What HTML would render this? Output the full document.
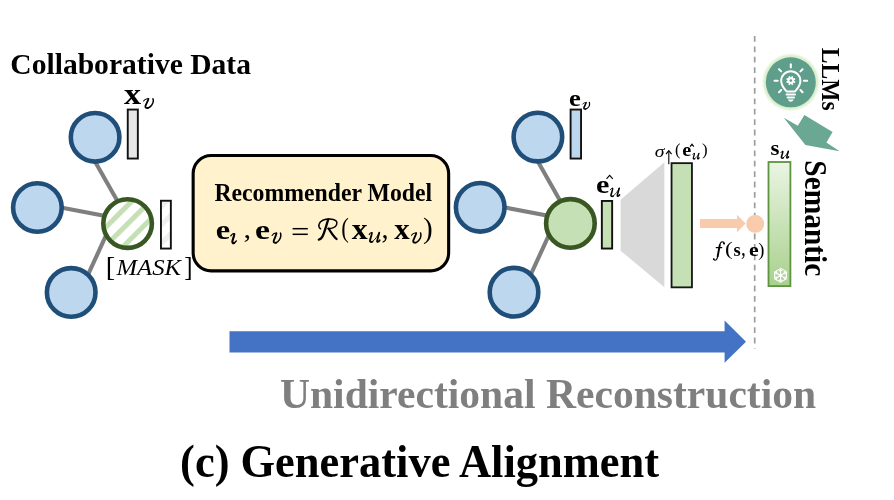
<!DOCTYPE html>
<html><head><meta charset="utf-8">
<style>
html,body{margin:0;padding:0;background:#fff;width:894px;height:500px;overflow:hidden}
svg{display:block;will-change:transform}
text{font-family:"Liberation Serif",serif}
.b{font-weight:bold}
.i{font-style:italic}
</style></head><body>
<svg width="894" height="500" viewBox="0 0 894 500">
<defs>
<pattern id="gs" width="13" height="13" patternUnits="userSpaceOnUse" patternTransform="rotate(45) translate(-1.05,0)">
<rect x="0" y="0" width="5.1" height="13" fill="#c5e0b4"/>
</pattern>
<pattern id="ws" width="13" height="13" patternUnits="userSpaceOnUse" patternTransform="rotate(45) translate(-2.45,0)">
<rect x="0" y="0" width="5.1" height="13" fill="#efefef"/>
</pattern>
<linearGradient id="sg" x1="0" y1="0" x2="0" y2="1">
<stop offset="0" stop-color="#eaf5e3"/>
<stop offset="1" stop-color="#a8d08d"/>
</linearGradient>
<radialGradient id="glow" cx="0.5" cy="0.5" r="0.5">
<stop offset="0.84" stop-color="#d3ebc2"/>
<stop offset="0.91" stop-color="#dcefcf" stop-opacity="0.85"/>
<stop offset="1" stop-color="#e8f5df" stop-opacity="0"/>
</radialGradient>
</defs>

<text class="b" font-size="29.06" transform="translate(10.32,73.70) scale(1.0179,1)">Collaborative Data</text>
<g id="gl">
<g stroke="#7f7f7f" stroke-width="4.1">
<line x1="81.2" y1="137.3" x2="130.2" y2="223.6"/>
<line x1="37.3" y1="202.9" x2="127.7" y2="220.3"/>
<line x1="111.4" y1="223.7" x2="79.9" y2="292.4"/>
</g>
<g fill="#bdd7ee" stroke="#1f4e79" stroke-width="4.6">
<circle cx="95.1" cy="137.3" r="24.3"/>
<circle cx="37.4" cy="207.5" r="24.3"/>
<circle cx="71.2" cy="292.4" r="24.3"/>
</g>
</g>
<circle cx="127.6" cy="223.6" r="24.3" fill="#fff"/>
<circle cx="127.6" cy="223.6" r="24.3" fill="url(#gs)" stroke="#385723" stroke-width="4.6"/>
<rect x="127.75" y="109.55" width="10.1" height="49" fill="#e7e6e6" stroke="#111" stroke-width="1.9"/>
<rect x="160.95" y="200.75" width="9.9" height="47.8" fill="#fff"/>
<rect x="160.95" y="200.75" width="9.9" height="47.8" fill="url(#ws)" stroke="#111" stroke-width="1.9"/>

<text class="b" font-size="29.57" transform="translate(123.93,103.80) scale(1.153,1)">x</text>
<path d="M143.60,101.00 C144.61,99.50 146.94,98.50 148.45,98.90" fill="none" stroke="#000" stroke-width="1.09" stroke-linecap="round" stroke-linejoin="round"/><path d="M148.45,98.90 C148.65,99.50 146.23,103.80 145.42,106.10 C144.91,107.80 146.43,108.30 147.94,108.00" fill="none" stroke="#000" stroke-width="1.81" stroke-linecap="round" stroke-linejoin="round"/><path d="M147.94,108.00 C150.67,107.10 153.30,103.80 153.30,101.10 C153.30,99.80 153.20,99.10 152.89,98.70" fill="none" stroke="#000" stroke-width="1.45" stroke-linecap="round" stroke-linejoin="round"/>
<text font-size="27.35" transform="translate(105.69,275.91) scale(1.030,1)">[</text>
<text class="i" font-size="24.12" transform="translate(116.45,274.80) scale(1.0267,1)">MASK</text>
<text font-size="27.35" transform="translate(184.13,275.91) scale(0.910,1)">]</text>
<rect x="193.15" y="155.55" width="255.5" height="115.3" rx="18" fill="#fff2cc" stroke="#000" stroke-width="3.1"/>
<text class="b" font-size="24.58" transform="translate(214.39,200.80) scale(0.9657,1)">Recommender Model</text>
<text class="b" font-size="27.92" transform="translate(215.76,238.72) scale(1.163,1)">e</text>
<path d="M230.78,235.90 C231.78,234.20 233.55,233.00 234.26,234.00" fill="none" stroke="#000" stroke-width="1.27" stroke-linecap="round" stroke-linejoin="round"/><path d="M234.26,234.00 C234.61,234.80 232.66,239.40 232.37,241.40 C232.13,243.10 233.25,243.60 234.14,242.90" fill="none" stroke="#000" stroke-width="2.12" stroke-linecap="round" stroke-linejoin="round"/><path d="M234.14,242.90 C235.03,242.40 235.91,241.60 236.32,240.90" fill="none" stroke="#000" stroke-width="1.36" stroke-linecap="round" stroke-linejoin="round"/>
<text font-size="28.24" transform="translate(243.49,238.36) scale(1.075,1)">,</text>
<text class="b" font-size="27.92" transform="translate(255.12,238.72) scale(1.210,1)">e</text>
<path d="M272.08,235.51 C272.99,233.95 275.08,232.91 276.45,233.32" fill="none" stroke="#000" stroke-width="1.12" stroke-linecap="round" stroke-linejoin="round"/><path d="M276.45,233.32 C276.63,233.95 274.45,238.42 273.72,240.81 C273.26,242.58 274.63,243.10 276.00,242.79" fill="none" stroke="#000" stroke-width="1.88" stroke-linecap="round" stroke-linejoin="round"/><path d="M276.00,242.79 C278.45,241.85 280.82,238.42 280.82,235.61 C280.82,234.26 280.73,233.53 280.45,233.12" fill="none" stroke="#000" stroke-width="1.50" stroke-linecap="round" stroke-linejoin="round"/>
<g stroke="#000" stroke-width="1.5"><line x1="292.6" y1="228.7" x2="307.8" y2="228.7"/><line x1="292.6" y1="234.3" x2="307.8" y2="234.3"/></g>
<g fill="none" stroke="#000" stroke-linecap="round">
<path d="M320.6,228.8 C317.6,226.6 318.6,222 322.8,220.2 C327,218.4 333,218.5 335.8,220.6 C338.2,222.6 336.5,226.4 333.5,227.6 C331.5,228.4 329.6,228.6 328,228.5" stroke-width="1.5"/>
<path d="M328.3,219.4 C326.6,224 325,231 322.6,236.3 C321.6,238.4 320.4,239.4 318.8,239.6" stroke-width="2.3"/>
<path d="M328.6,228.6 C331,232 333.4,236.4 336.6,239" stroke-width="2.2"/>
</g>
<text font-size="27.03" transform="translate(341.28,237.49) scale(0.841,1)">(</text>
<text class="b" font-size="28.48" transform="translate(351.84,239.20) scale(1.118,1)">x</text>
<path d="M369.22,234.46 C369.86,233.28 370.73,232.50 371.81,232.89" fill="none" stroke="#000" stroke-width="1.12" stroke-linecap="round" stroke-linejoin="round"/><path d="M371.81,232.89 C372.24,233.48 370.30,238.87 369.97,240.54 C369.76,242.01 371.16,242.30 372.46,241.61" fill="none" stroke="#000" stroke-width="1.88" stroke-linecap="round" stroke-linejoin="round"/><path d="M372.46,241.61 C374.94,239.85 377.64,235.93 379.26,232.70" fill="none" stroke="#000" stroke-width="0.90" stroke-linecap="round" stroke-linejoin="round"/><path d="M379.26,232.70 C378.50,235.44 377.42,239.36 377.10,240.93 C376.88,242.10 378.29,242.30 379.69,240.14" fill="none" stroke="#000" stroke-width="1.80" stroke-linecap="round" stroke-linejoin="round"/>
<text font-size="29.80" transform="translate(381.57,238.23) scale(0.949,1)">,</text>
<text class="b" font-size="28.48" transform="translate(394.15,239.20) scale(1.082,1)">x</text>
<path d="M411.50,235.31 C412.48,233.75 414.73,232.71 416.20,233.12" fill="none" stroke="#000" stroke-width="1.12" stroke-linecap="round" stroke-linejoin="round"/><path d="M416.20,233.12 C416.40,233.75 414.04,238.22 413.26,240.61 C412.77,242.38 414.24,242.90 415.71,242.59" fill="none" stroke="#000" stroke-width="1.88" stroke-linecap="round" stroke-linejoin="round"/><path d="M415.71,242.59 C418.36,241.65 420.90,238.22 420.90,235.41 C420.90,234.06 420.81,233.33 420.51,232.92" fill="none" stroke="#000" stroke-width="1.50" stroke-linecap="round" stroke-linejoin="round"/>
<text font-size="29.67" transform="translate(423.12,238.47) scale(0.985,1)">)</text>
<use href="#gl" transform="translate(442.8,-0.2)"/>
<circle cx="570.4" cy="223.4" r="24.3" fill="#c5e0b4" stroke="#385723" stroke-width="4.6"/>
<rect x="570.6" y="109.55" width="10.45" height="49" fill="#bdd7ee" stroke="#111" stroke-width="1.9"/>
<rect x="601.85" y="200.95" width="10.3" height="47.6" fill="#c5e0b4" stroke="#111" stroke-width="1.9"/>
<polygon points="620.6,199.7 664.4,162.3 664.4,287.2 620.6,250.7" fill="#d9d9d9"/>
<rect x="671.55" y="163.15" width="20.4" height="124.2" fill="#c5e0b4" stroke="#151515" stroke-width="1.8"/>

<text class="b" font-size="22.50" transform="translate(568.97,106.08) scale(1.177,1)">e</text>
<path d="M582.64,104.09 C583.36,103.04 585.02,102.34 586.10,102.62" fill="none" stroke="#000" stroke-width="0.94" stroke-linecap="round" stroke-linejoin="round"/><path d="M586.10,102.62 C586.24,103.04 584.52,106.05 583.94,107.66 C583.58,108.85 584.66,109.20 585.74,108.99" fill="none" stroke="#000" stroke-width="1.56" stroke-linecap="round" stroke-linejoin="round"/><path d="M585.74,108.99 C587.68,108.36 589.56,106.05 589.56,104.16 C589.56,103.25 589.48,102.76 589.27,102.48" fill="none" stroke="#000" stroke-width="1.25" stroke-linecap="round" stroke-linejoin="round"/>
<text class="b" font-size="26.25" transform="translate(595.95,192.84) scale(1.148,1)">e</text>
<path d="M610.29,189.82 C610.87,188.79 611.64,188.10 612.60,188.44" fill="none" stroke="#000" stroke-width="0.98" stroke-linecap="round" stroke-linejoin="round"/><path d="M612.60,188.44 C612.98,188.96 611.25,193.69 610.96,195.15 C610.77,196.44 612.02,196.70 613.17,196.10" fill="none" stroke="#000" stroke-width="1.62" stroke-linecap="round" stroke-linejoin="round"/><path d="M613.17,196.10 C615.38,194.55 617.78,191.11 619.22,188.27" fill="none" stroke="#000" stroke-width="0.78" stroke-linecap="round" stroke-linejoin="round"/><path d="M619.22,188.27 C618.55,190.68 617.59,194.12 617.30,195.50 C617.11,196.53 618.36,196.70 619.60,194.81" fill="none" stroke="#000" stroke-width="1.56" stroke-linecap="round" stroke-linejoin="round"/>
<path d="M606.5,178.8 L609.65,175.3 L612.8,178.8" fill="none" stroke="#000" stroke-width="1.1"/>
<text class="i" font-size="16.00" transform="translate(654.81,156.94) scale(1.237,1)">σ</text>
<g stroke="#000" stroke-width="1.1" fill="none"><line x1="668.8" y1="151" x2="668.8" y2="164.3"/><path d="M666,154.2 L668.8,150.6 L671.6,154.2"/></g>
<text font-size="16.04" transform="translate(675.06,155.05) scale(1.027,1)">(</text>
<text class="b" font-size="17.92" transform="translate(682.19,156.32) scale(1.131,1)">e</text>
<path d="M692.83,154.40 C693.22,153.68 693.74,153.20 694.39,153.44" fill="none" stroke="#000" stroke-width="0.79" stroke-linecap="round" stroke-linejoin="round"/><path d="M694.39,153.44 C694.65,153.80 693.48,157.10 693.29,158.12 C693.16,159.02 694.00,159.20 694.78,158.78" fill="none" stroke="#000" stroke-width="1.31" stroke-linecap="round" stroke-linejoin="round"/><path d="M694.78,158.78 C696.28,157.70 697.90,155.30 698.88,153.32" fill="none" stroke="#000" stroke-width="0.63" stroke-linecap="round" stroke-linejoin="round"/><path d="M698.88,153.32 C698.42,155.00 697.77,157.40 697.58,158.36 C697.45,159.08 698.29,159.20 699.13,157.88" fill="none" stroke="#000" stroke-width="1.26" stroke-linecap="round" stroke-linejoin="round"/>
<path d="M690.1,146.7 L691.95,144.3 L693.8,146.7" fill="none" stroke="#000" stroke-width="1.15"/>
<text font-size="17.33" transform="translate(701.99,155.16) scale(0.976,1)">)</text>
<line x1="754.7" y1="36" x2="754.7" y2="348.6" stroke="#9d9d9d" stroke-width="1.7" stroke-dasharray="5.8 4.6"/>
<polygon points="700,219 737,219 737,214.8 745.6,223.5 737,232.2 737,228 700,228" fill="#f8cbad"/>
<circle cx="755.2" cy="223.8" r="9" fill="#f8cbad"/>

<g fill="none" stroke="#000" stroke-linecap="round">
<path d="M724.3,243.7 C724.2,242.4 723.2,241.8 722.3,241.8 C720.8,241.9 720.1,243.3 719.7,245.3" stroke-width="1.1"/>
<path d="M719.7,245.3 L717.7,256.3" stroke-width="1.9"/>
<path d="M717.7,256.3 C717.2,258.8 716.3,260.2 715,260.2 C714.2,260.2 713.7,259.8 713.5,259.2" stroke-width="1.1"/>
<path d="M716.2,247.6 L721.8,247.6" stroke-width="1.1"/>
</g>
<circle cx="724" cy="243.5" r="0.95"/><circle cx="713.8" cy="259.1" r="0.95"/>
<text font-size="19.78" transform="translate(725.06,255.45) scale(1.170,1)">(</text>
<text class="b" font-size="19.38" transform="translate(733.54,255.61) scale(0.955,1)">s</text>
<text font-size="23.53" transform="translate(741.03,255.47) scale(0.821,1)">,</text>
<text class="b" font-size="19.38" transform="translate(748.94,255.61) scale(1.126,1)">e</text>
<text font-size="19.78" transform="translate(758.25,255.55) scale(0.933,1)">)</text>
<rect x="768.5" y="162" width="21.9" height="124.1" fill="url(#sg)" stroke="#5e933f" stroke-width="1.8"/>
<text class="b" font-size="20.42" transform="translate(770.51,155.10) scale(1.126,1)">s</text>
<path d="M780.86,152.64 C781.34,151.78 781.98,151.20 782.78,151.49" fill="none" stroke="#000" stroke-width="0.94" stroke-linecap="round" stroke-linejoin="round"/><path d="M782.78,151.49 C783.10,151.92 781.66,155.88 781.42,157.10 C781.26,158.18 782.30,158.40 783.26,157.90" fill="none" stroke="#000" stroke-width="1.56" stroke-linecap="round" stroke-linejoin="round"/><path d="M783.26,157.90 C785.10,156.60 787.10,153.72 788.30,151.34" fill="none" stroke="#000" stroke-width="0.75" stroke-linecap="round" stroke-linejoin="round"/><path d="M788.30,151.34 C787.74,153.36 786.94,156.24 786.70,157.39 C786.54,158.26 787.58,158.40 788.62,156.82" fill="none" stroke="#000" stroke-width="1.50" stroke-linecap="round" stroke-linejoin="round"/>
<g stroke="#fff" stroke-width="1.1" stroke-linecap="round" fill="none" opacity="0.95">
<path d="M780.50,275.40 L780.50,268.80 M780.50,271.40 L782.34,269.86 M780.50,271.40 L778.66,269.86 M780.50,275.40 L774.78,272.10 M777.04,273.40 L776.62,271.04 M777.04,273.40 L774.78,274.22 M780.50,275.40 L774.78,278.70 M777.04,277.40 L774.78,276.58 M777.04,277.40 L776.62,279.76 M780.50,275.40 L780.50,282.00 M780.50,279.40 L778.66,280.94 M780.50,279.40 L782.34,280.94 M780.50,275.40 L786.22,278.70 M783.96,277.40 L784.38,279.76 M783.96,277.40 L786.22,276.58 M780.50,275.40 L786.22,272.10 M783.96,273.40 L786.22,274.22 M783.96,273.40 L784.38,271.04"/>
<polygon points="780.50,268.50 774.52,271.95 774.52,278.85 780.50,282.30 786.48,278.85 786.48,271.95" stroke-width="1.0"/>
</g>
<circle cx="780.5" cy="275.4" r="1.8" fill="#fff"/>
<circle cx="790.8" cy="82.3" r="29.5" fill="url(#glow)"/>
<circle cx="790.8" cy="82.3" r="25" fill="#5f9e8a"/>
<g stroke="#fff" stroke-width="2" fill="none" stroke-linecap="round" stroke-linejoin="round">
<path d="M786.6 91.4 C784 88.4 781.2 86 781.2 80.8 A9.6 9.6 0 0 1 800.4 80.8 C800.4 86 797.6 88.4 795 91.4 Z"/>
<line x1="786.6" y1="94.6" x2="795" y2="94.6"/>
<line x1="787.6" y1="97.5" x2="794" y2="97.5"/>
<line x1="790.8" y1="64.3" x2="790.8" y2="67.6"/>
<line x1="774.5" y1="80.8" x2="777.7" y2="80.8"/>
<line x1="803.9" y1="80.8" x2="807.1" y2="80.8"/>
<line x1="779" y1="69.2" x2="781.2" y2="71.4"/>
<line x1="802.6" y1="69.2" x2="800.4" y2="71.4"/>
<line x1="779" y1="92.2" x2="781.2" y2="90"/>
<line x1="802.6" y1="92.2" x2="800.4" y2="90"/>
</g>
<circle cx="790.8" cy="80.6" r="3.3" fill="#fff"/>
<path d="M793.20,81.59 L795.05,82.36 M791.79,83.00 L792.56,84.85 M789.81,83.00 L789.04,84.85 M788.40,81.59 L786.55,82.36 M788.40,79.61 L786.55,78.84 M789.81,78.20 L789.04,76.35 M791.79,78.20 L792.56,76.35 M793.20,79.61 L795.05,78.84" stroke="#fff" stroke-width="1.7" fill="none"/>
<circle cx="790.8" cy="80.6" r="1.3" fill="#5f9e8a"/>
<path d="M787.8 99.6 L793.8 99.6 Q792.6 101.8 790.8 101.8 Q789 101.8 787.8 99.6 Z" fill="#fff"/>
<polygon points="783.8,117.8 797.8,125.8 804.4,115 832.6,132.1 826.4,142.6 839.6,151.3 805.4,145" fill="#6aa893"/>

<text class="b" font-size="24.73" transform="translate(822.20,47.75) rotate(90) scale(0.9532,1)">LLMs</text>
<text class="b" font-size="31.67" transform="translate(804.60,160.28) rotate(90) scale(0.9290,1)">Semantic</text>
<polygon points="229.5,331.3 724.6,331.3 724.6,320.6 746,341.8 724.6,362.8 724.6,352.6 229.5,352.6" fill="#4472c4"/>

<text class="b" font-size="43.21" transform="translate(279.96,408.30) scale(0.9625,1)" fill="#7f7f7f">Unidirectional Reconstruction</text>
<text class="b" font-size="47.42" transform="translate(180.10,476.60) scale(0.9376,1)">(c) Generative Alignment</text>
</svg>
</body></html>
